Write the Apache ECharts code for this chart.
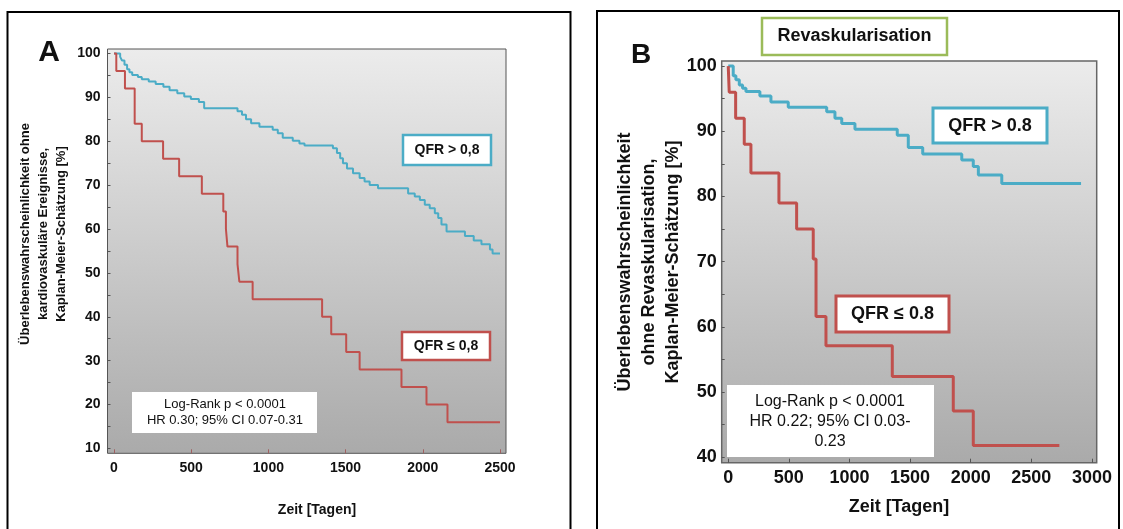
<!DOCTYPE html>
<html>
<head>
<meta charset="utf-8">
<script src="https://cdn.jsdelivr.net/npm/echarts@6/dist/echarts.min.js"></script>
<style>
html,body{margin:0;padding:0;background:#fff;}
#chart{width:1123px;height:529px;}
</style>
</head>
<body>
<div id="chart"></div>
<script>
// ---------- Data ----------
// Panel A: kardiovaskuläre Ereignisse
const xTicksA = [0, 500, 1000, 1500, 2000, 2500];
const yTicksA = [10, 20, 30, 40, 50, 60, 70, 80, 90, 100];
const yMinorA = [10, 15, 20, 25, 30, 35, 40, 45, 50, 55, 60, 65, 70, 75, 80, 85, 90, 95, 100];

const timeA_high = [0, 40, 52, 68, 85, 100, 118, 155, 180, 225, 270, 320, 360, 410, 455, 498, 550, 584, 800, 829, 855, 888, 942, 1028, 1061, 1093, 1158, 1201, 1234, 1418, 1444, 1465, 1483, 1509, 1548, 1591, 1623, 1656, 1710, 1905, 1948, 1981, 2013, 2045, 2078, 2100, 2121, 2154, 2273, 2330, 2380, 2435, 2452, 2500];
const survA_high = [100, 99.2, 98.4, 97.4, 96.4, 95.7, 95.1, 94.6, 94.1, 93.6, 93.0, 92.4, 91.6, 90.9, 90.2, 89.6, 88.9, 87.5, 86.8, 86.0, 85.0, 84.1, 83.3, 82.6, 81.8, 80.8, 80.1, 79.5, 79.0, 78.4, 77.3, 76.1, 75.0, 73.8, 72.7, 71.6, 70.8, 70.0, 69.3, 68.1, 67.4, 66.6, 65.5, 64.7, 63.6, 62.5, 61.0, 59.4, 58.4, 57.4, 56.5, 55.3, 54.4, 54.4];

const timeA_low = [0, 15, 71, 134, 180, 318, 422, 569, 708, 725, 735, 800, 812, 898, 1348, 1407, 1504, 1591, 1862, 2024, 2160, 2500];
const survA_low = [100, 96, 92, 84, 80, 76, 72, 68, 64, 60, 56, 52, 48, 44, 40, 36, 32, 28, 24, 20, 16, 16];

// Panel B: Revaskularisation
const xTicksB = [0, 500, 1000, 1500, 2000, 2500, 3000];
const yTicksB = [40, 50, 60, 70, 80, 90, 100];
const yMinorB = [40, 45, 50, 55, 60, 65, 70, 75, 80, 85, 90, 95, 100];

const timeB_high = [0, 41, 63, 91, 118, 146, 261, 352, 495, 812, 880, 936, 1045, 1394, 1485, 1604, 1926, 2021, 2063, 2256, 2910];
const survB_high = [100, 98.5, 97.9, 97.1, 96.6, 96.1, 95.4, 94.5, 93.7, 93.0, 92.0, 91.2, 90.3, 89.4, 87.5, 86.5, 85.6, 84.6, 83.3, 82.0, 82.0];

const timeB_low = [0, 8, 61, 132, 187, 418, 564, 701, 724, 806, 1353, 1856, 2021, 2731];
const survB_low = [100, 96, 92, 88, 83.6, 79, 75, 70.4, 61.6, 57.1, 52.4, 47.1, 41.8, 41.8];

// ---------- Styling ----------
const FONT = 'Liberation Sans, Arial, sans-serif';
const TEAL = '#4bacc6';
const RED = '#c0504d';
const GREEN = '#9bbb59';
const zip = (a, b) => a.map((v, i) => [v, b[i]]);
const plain = v => String(v);

function bg() {
  return {type: 'linear', x: 0, y: 0, x2: 0, y2: 1,
    colorStops: [{offset: 0, color: '#ececec'}, {offset: 1, color: '#aaaaaa'}]};
}

const chart = echarts.init(document.getElementById('chart'), null, {renderer: 'canvas'});

function txt(x, y, text, size, weight, extra) {
  return {
    type: 'text', x: x, y: y, z: 100,
    style: Object.assign({
      text: text, font: (weight || 'normal') + ' ' + size + 'px ' + FONT,
      fill: '#111', align: 'center', verticalAlign: 'middle'
    }, extra || {})
  };
}
function box(x, y, w, h, stroke, lw, fill) {
  return {type: 'rect', z: 90, shape: {x: x, y: y, width: w, height: h},
    style: {fill: fill === undefined ? '#fff' : fill, stroke: stroke, lineWidth: lw}};
}

const option = {
  animation: false,
  backgroundColor: '#fff',
  grid: [
    {left: 107.5, top: 49, width: 398.5, height: 404.3, show: true, backgroundColor: bg(), borderColor: '#555', borderWidth: 1},
    {left: 721.7, top: 61, width: 375, height: 401.7, show: true, backgroundColor: bg(), borderColor: '#666', borderWidth: 1.5}
  ],
  xAxis: [
    {gridIndex: 0, type: 'value', min: -42, max: 2539, splitLine: {show: false},
     axisLine: {show: false, onZero: false},
     axisTick: {show: true, inside: true, length: 4, customValues: xTicksA, lineStyle: {color: '#a06060'}},
     axisLabel: {customValues: xTicksA, formatter: plain, fontSize: 14, fontWeight: 'bold', color: '#111', margin: 8, fontFamily: FONT}},
    {gridIndex: 1, type: 'value', min: -54, max: 3039, splitLine: {show: false},
     axisLine: {show: false, onZero: false},
     axisTick: {show: true, inside: true, length: 4, customValues: xTicksB, lineStyle: {color: '#555'}},
     axisLabel: {customValues: xTicksB, formatter: plain, fontSize: 18, fontWeight: 'bold', color: '#111', margin: 6, fontFamily: FONT}}
  ],
  yAxis: [
    {gridIndex: 0, type: 'value', min: 8.9, max: 101.0, splitLine: {show: false},
     axisLine: {show: false, onZero: false},
     axisTick: {show: true, inside: true, length: 3, customValues: yMinorA, lineStyle: {color: '#555'}},
     axisLabel: {customValues: yTicksA, formatter: plain, fontSize: 14, fontWeight: 'bold', color: '#111', margin: 7, fontFamily: FONT}},
    {gridIndex: 1, type: 'value', min: 39.17, max: 100.78, splitLine: {show: false},
     axisLine: {show: false, onZero: false},
     axisTick: {show: true, inside: true, length: 3, customValues: yMinorB, lineStyle: {color: '#555'}},
     axisLabel: {customValues: yTicksB, formatter: plain, fontSize: 18, fontWeight: 'bold', color: '#111', margin: 5, fontFamily: FONT}}
  ],
  series: [
    {type: 'line', xAxisIndex: 0, yAxisIndex: 0, step: 'end', showSymbol: false, data: zip(timeA_high, survA_high), lineStyle: {color: TEAL, width: 2}},
    {type: 'line', xAxisIndex: 0, yAxisIndex: 0, step: 'end', showSymbol: false, data: zip(timeA_low, survA_low), lineStyle: {color: RED, width: 2}},
    {type: 'line', xAxisIndex: 1, yAxisIndex: 1, step: 'end', showSymbol: false, data: zip(timeB_high, survB_high), lineStyle: {color: TEAL, width: 3}},
    {type: 'line', xAxisIndex: 1, yAxisIndex: 1, step: 'end', showSymbol: false, data: zip(timeB_low, survB_low), lineStyle: {color: RED, width: 3}}
  ],
  graphic: [
    // panel frames
    {type: 'rect', z: 80, shape: {x: 7.5, y: 12, width: 563, height: 540}, style: {fill: null, stroke: '#000', lineWidth: 2}},
    {type: 'rect', z: 80, shape: {x: 597, y: 11, width: 522, height: 540}, style: {fill: null, stroke: '#000', lineWidth: 2}},
    // panel letters
    txt(49, 53, 'A', 30, 'bold'),
    txt(641, 55, 'B', 28, 'bold'),
    // y-axis titles
    Object.assign(txt(43.5, 234, 'Überlebenswahrscheinlichkeit ohne\nkardiovaskuläre Ereignisse,\nKaplan-Meier-Schätzung [%]', 13, 'bold', {lineHeight: 17.7}), {rotation: Math.PI / 2}),
    Object.assign(txt(649, 262, 'Überlebenswahrscheinlichkeit\nohne Revaskularisation,\nKaplan-Meier-Schätzung [%]', 18, 'bold', {lineHeight: 24}), {rotation: Math.PI / 2}),
    // x-axis titles
    txt(317, 510, 'Zeit [Tagen]', 14, 'bold'),
    txt(899, 507, 'Zeit [Tagen]', 18, 'bold'),
    // panel A legend boxes
    box(403, 135, 88, 30, TEAL, 2.5),
    txt(447, 150, 'QFR > 0,8', 14, 'bold'),
    box(402, 332, 88, 28, RED, 2.5),
    txt(446, 346, 'QFR ≤ 0,8', 14, 'bold'),
    // panel A statistics
    box(132, 392, 185, 41, null, 0),
    txt(225, 412.3, 'Log-Rank p < 0.0001\nHR 0.30; 95% CI 0.07-0.31', 13, 'normal', {lineHeight: 16.7}),
    // panel B title
    box(762, 18, 185, 37, GREEN, 2.5),
    txt(854.5, 36.5, 'Revaskularisation', 18, 'bold'),
    // panel B legend boxes
    box(933, 108, 114, 35, TEAL, 3),
    txt(990, 126, 'QFR > 0.8', 18, 'bold'),
    box(836, 296, 113, 36, RED, 3),
    txt(892.5, 314, 'QFR ≤ 0.8', 18, 'bold'),
    // panel B statistics
    box(727, 385, 207, 72, null, 0),
    txt(830, 422, 'Log-Rank p < 0.0001\nHR 0.22; 95% CI 0.03-\n0.23', 16, 'normal', {lineHeight: 20})
  ]
};
chart.setOption(option);
</script>
</body>
</html>
